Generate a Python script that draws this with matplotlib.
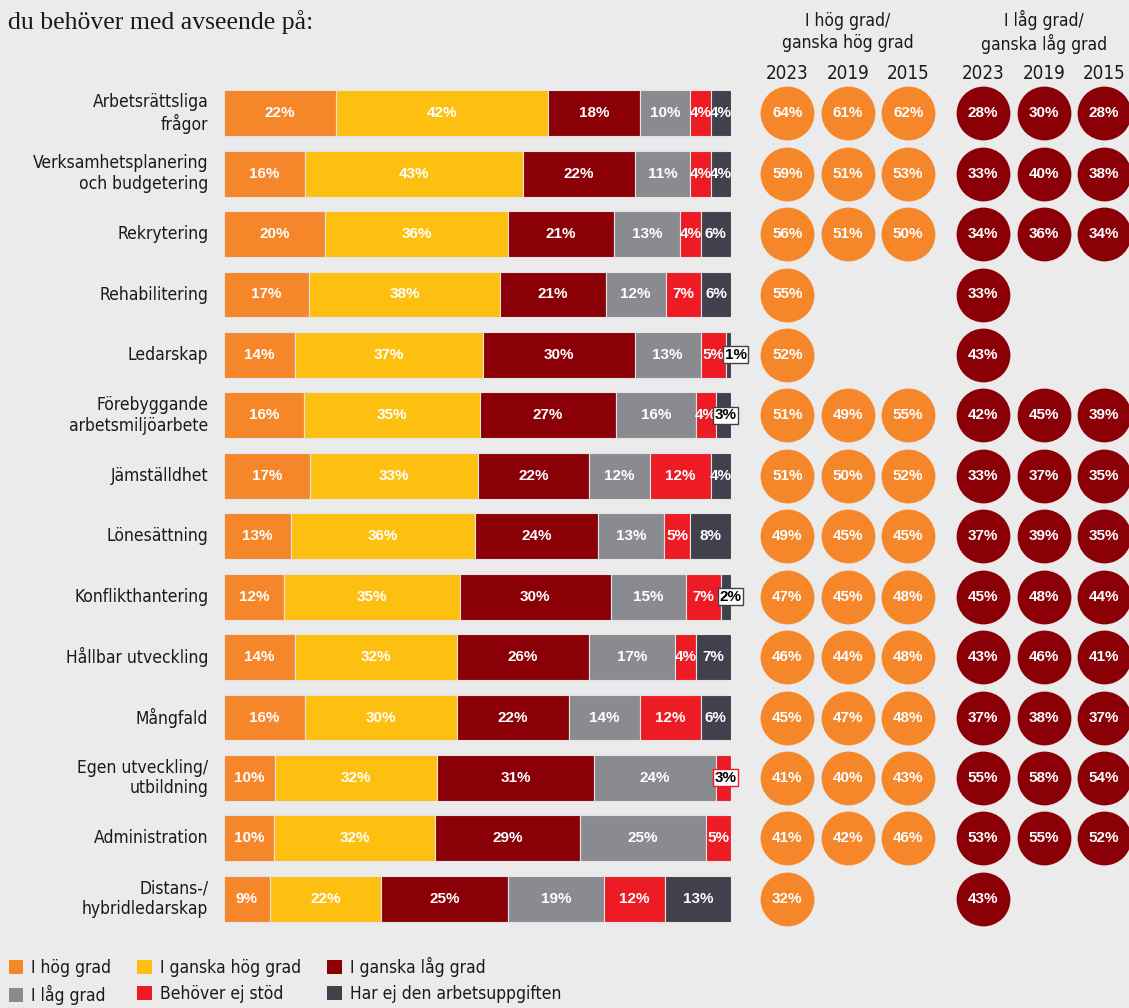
import matplotlib
matplotlib.use("Agg")
import matplotlib.pyplot as plt
from matplotlib.patches import Patch
import numpy as np

# data
omraden = ["Arbetsrättsliga\nfrågor", "Verksamhetsplanering\noch budgetering", "Rekrytering",
           "Rehabilitering", "Ledarskap", "Förebyggande\narbetsmiljöarbete", "Jämställdhet",
           "Lönesättning", "Konflikthantering", "Hållbar utveckling", "Mångfald",
           "Egen utveckling/\nutbildning", "Administration", "Distans-/\nhybridledarskap"]

hog_grad = [22, 16, 20, 17, 14, 16, 17, 13, 12, 14, 16, 10, 10, 9]
ganska_hog = [42, 43, 36, 38, 37, 35, 33, 36, 35, 32, 30, 32, 32, 22]
ganska_lag = [18, 22, 21, 21, 30, 27, 22, 24, 30, 26, 22, 31, 29, 25]
lag_grad = [10, 11, 13, 12, 13, 16, 12, 13, 15, 17, 14, 24, 25, 19]
behover_ej = [4, 4, 4, 7, 5, 4, 12, 5, 7, 4, 12, 3, 5, 12]
har_ej = [4, 4, 6, 6, 1, 3, 4, 8, 2, 7, 6, 0, 0, 13]

serier = ["I hög grad", "I ganska hög grad", "I ganska låg grad",
          "I låg grad", "Behöver ej stöd", "Har ej den arbetsuppgiften"]
farger = ["#f5862a", "#fdc010", "#8b0007", "#898b90", "#ed1c24", "#40414c"]

ar = ["2023", "2019", "2015"]
hog_2023 = [64, 59, 56, 55, 52, 51, 51, 49, 47, 46, 45, 41, 41, 32]
hog_2019 = [61, 51, 51, None, None, 49, 50, 45, 45, 44, 47, 40, 42, None]
hog_2015 = [62, 53, 50, None, None, 55, 52, 45, 48, 48, 48, 43, 46, None]
lag_2023 = [28, 33, 34, 33, 43, 42, 33, 37, 45, 43, 37, 55, 53, 43]
lag_2019 = [30, 40, 36, None, None, 45, 37, 39, 48, 46, 38, 58, 55, None]
lag_2015 = [28, 38, 34, None, None, 39, 35, 35, 44, 41, 37, 54, 52, None]

BG = "#ebebeb"
TXT = "#1a1a1a"
COND = dict(family=["DejaVu Sans"], stretch="condensed")
BOLD = ["Liberation Sans", "DejaVu Sans"]

fig = plt.figure(figsize=(11.29, 10.08), dpi=100, facecolor=BG)

# stacked bars
ax = fig.add_axes([224 / 1129, 1 - 929 / 1008, 507 / 1129, 846 / 1008])
ax.set_facecolor(BG)
data = np.array([hog_grad, ganska_hog, ganska_lag, lag_grad, behover_ej, har_ej], dtype=float)
andel = data / data.sum(axis=0) * 100
y = np.arange(len(omraden))
vanster = np.zeros(len(omraden))
for i in range(len(serier)):
    ax.barh(y, andel[i], left=vanster, height=0.76, color=farger[i],
            edgecolor="#e4e4e4", linewidth=0.8)
    for j in range(len(omraden)):
        v = data[i, j]
        if v <= 0:
            continue
        if v < 4:
            ax.text(vanster[j] - 0.2, y[j], f"{int(v)}%", ha="left", va="center",
                    fontsize=11, fontweight="bold", family=BOLD, color="black",
                    bbox=dict(boxstyle="square,pad=0.1", fc="white", ec=farger[i], lw=1))
        else:
            ax.text(vanster[j] + andel[i, j] / 2, y[j], f"{int(v)}%", ha="center",
                    va="center", fontsize=11, fontweight="bold", family=BOLD, color="white")
    vanster += andel[i]
ax.set_xlim(0, 100)
ax.set_ylim(len(omraden) - 0.5, -0.5)
ax.axis("off")

for j, namn in enumerate(omraden):
    ax.text(-3.1, y[j], namn, ha="right", va="center", fontsize=12.5, color=TXT,
            linespacing=1.2, **COND)

# circles with trend
ax2 = fig.add_axes([757 / 1129, 1 - 929 / 1008, 372 / 1129, 846 / 1008])
ax2.set_facecolor(BG)
ax2.set_xlim(-0.5, 5.65)
ax2.set_ylim(len(omraden) - 0.5, -0.5)
ax2.axis("off")
kol_x = [0, 1, 2, 3.24, 4.24, 5.24]
kolumner = [hog_2023, hog_2019, hog_2015, lag_2023, lag_2019, lag_2015]
kol_farg = [farger[0]] * 3 + [farger[2]] * 3
for k, vals in enumerate(kolumner):
    for j, v in enumerate(vals):
        if v is None:
            continue
        ax2.scatter(kol_x[k], y[j], s=1500, color=kol_farg[k], linewidths=0, clip_on=False)
        ax2.text(kol_x[k], y[j], f"{v}%", ha="center", va="center", fontsize=11,
                 fontweight="bold", family=BOLD, color="white")
    ax2.text(kol_x[k], -0.66, ar[k % 3], ha="center", va="center", fontsize=13.5,
             color=TXT, **COND)
ax2.text(1, -1.34, "I hög grad/\nganska hög grad", ha="center", va="center",
         fontsize=12.5, color=TXT, linespacing=1.25, **COND)
ax2.text(4.24, -1.34, "I låg grad/\nganska låg grad", ha="center", va="center",
         fontsize=12.5, color=TXT, linespacing=1.25, **COND)

# title (upper line is cut off in the source)
fig.text(8 / 1129, 1 - 22 / 1008, "du behöver med avseende på:", ha="left", va="center",
         fontsize=18.5, family=["Liberation Serif", "DejaVu Serif"], color=TXT)

# legend
handles = [Patch(facecolor=f, edgecolor="none") for f in farger]
ordning = [0, 3, 1, 4, 2, 5]
leg = fig.legend([handles[i] for i in ordning], [serier[i] for i in ordning], ncol=3,
                 loc="lower left", bbox_to_anchor=(0.0, -0.006), frameon=False,
                 prop={"family": "DejaVu Sans", "stretch": "condensed", "size": 12.5},
                 handlelength=0.85, handleheight=0.85, handletextpad=0.45,
                 columnspacing=1.5, labelspacing=0.5, borderaxespad=0.3, borderpad=0.2)
for t in leg.get_texts():
    t.set_color(TXT)

fig.savefig("out.png", dpi=100, facecolor=BG)
